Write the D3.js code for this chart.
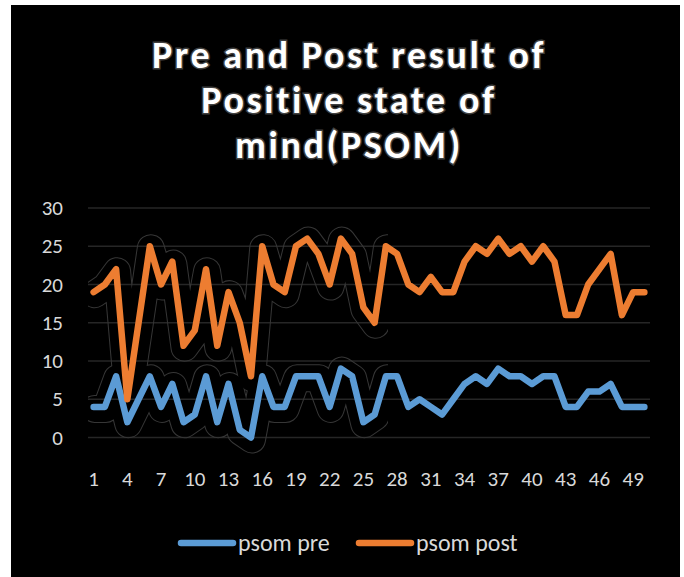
<!DOCTYPE html>
<html>
<head>
<meta charset="utf-8">
<script src="https://cdn.jsdelivr.net/npm/d3@7"></script>
<style>
  body { margin: 0; background: #fff; }
  svg { display: block; }
</style>
</head>
<body>
<div class="chart"></div>
<script>
// data
var categories = d3.range(1, 51);
var psomPre = [4,4,8,2,5,8,4,7,2,3, 8,2,7,1,0,8,4,4,8,8, 8,4,9,8,2,3,8,8,4,5,
               4,3,5,7,8,7,9,8,8,7, 8,8,4,4,6,6,7,4,4,4];
var psomPost = [19,20,22,5,15,25,20,23,12,14, 22,12,19,15,8,25,20,19,25,26,
                24,20,26,24,17,15,25,24,20,19, 21,19,19,23,25,24,26,24,25,23,
                25,23,16,16,20,22,24,16,19,19];
var yTicks = [0, 5, 10, 15, 20, 25, 30];
var seriesNames = ["psom pre", "psom post"];
var titleLines = ["Pre and Post result of", "Positive state of", "mind(PSOM)"];

var width = 684, height = 577;
var font = "Carlito, Lato, 'Open Sans', sans-serif";

var svg = d3.select(".chart").append("svg")
    .attr("width", width)
    .attr("height", height);

// black chart area
svg.append("rect")
    .attr("x", 11).attr("y", 5)
    .attr("width", 669).attr("height", 572)
    .attr("fill", "#000");

var x = d3.scaleBand().domain(categories).range([88, 650]);
var y = d3.scaleLinear().domain([0, 30]).range([437.5, 208]);

// gridlines
svg.append("g")
    .selectAll("line")
    .data(yTicks)
    .enter().append("line")
    .attr("x1", 88).attr("x2", 650)
    .attr("y1", d => y(d)).attr("y2", d => y(d))
    .attr("stroke", "#262626")
    .attr("stroke-width", 1.3);

// y axis labels
var yAxis = svg.append("g")
    .attr("transform", "translate(63,0)")
    .call(d3.axisLeft(y).tickValues(yTicks).tickSize(0).tickPadding(0));
yAxis.select(".domain").remove();
yAxis.selectAll("text")
    .attr("fill", "#d9d9d9")
    .style("font-family", font)
    .style("font-size", "21px");

// x axis labels, every third category
var xAxis = svg.append("g")
    .attr("transform", "translate(0,471)")
    .call(d3.axisBottom(x)
        .tickValues(categories.filter(d => (d - 1) % 3 === 0))
        .tickSize(0).tickPadding(0));
xAxis.select(".domain").remove();
xAxis.selectAll("text")
    .attr("fill", "#d9d9d9")
    .style("font-family", font)
    .style("font-size", "21px");

var cx = d => x(d) + x.bandwidth() / 2;
var line = d3.line()
    .x((d, i) => cx(categories[i]))
    .y(d => y(d));

// faint outline left around the first part of both lines
var defs = svg.append("defs");
defs.append("clipPath").attr("id", "plotclip")
    .append("rect").attr("x", 88).attr("y", 180).attr("width", 300).attr("height", 280);
var mask = defs.append("mask").attr("id", "ringmask");
mask.append("rect").attr("width", width).attr("height", height).attr("fill", "#000");
[psomPre, psomPost].forEach(function (s) {
    mask.append("path").attr("d", line(s.slice(0, 27)))
        .attr("fill", "none").attr("stroke", "#fff")
        .attr("stroke-width", 28).attr("stroke-linejoin", "round").attr("stroke-linecap", "round");
});
[psomPre, psomPost].forEach(function (s) {
    mask.append("path").attr("d", line(s.slice(0, 27)))
        .attr("fill", "none").attr("stroke", "#000")
        .attr("stroke-width", 26).attr("stroke-linejoin", "round").attr("stroke-linecap", "round");
});
svg.append("g").attr("clip-path", "url(#plotclip)")
    .append("rect")
    .attr("width", width).attr("height", height)
    .attr("transform", "translate(1,2)")
    .attr("fill", "#363636")
    .attr("mask", "url(#ringmask)");

// series lines
var colors = ["#5b9bd5", "#ed7d31"];
[psomPre, psomPost].forEach(function (s, i) {
    svg.append("path")
        .attr("d", line(s))
        .attr("fill", "none")
        .attr("stroke", colors[i])
        .attr("stroke-width", 6.5)
        .attr("stroke-linejoin", "round")
        .attr("stroke-linecap", "round");
});

// title
svg.append("text")
    .attr("text-anchor", "middle")
    .style("font-family", font)
    .style("font-size", "38px")
    .style("font-weight", "bold")
    .style("letter-spacing", "2.6px")
    .attr("fill", "#fff")
    .attr("stroke", "#404040")
    .attr("stroke-width", 3)
    .attr("paint-order", "stroke")
    .selectAll("tspan")
    .data(titleLines)
    .enter().append("tspan")
    .attr("x", 349)
    .attr("y", (d, i) => 68 + i * 45)
    .text(d => d);

// legend
var legendX = [181, 359];
var legend = svg.append("g");
seriesNames.forEach(function (name, i) {
    legend.append("line")
        .attr("x1", legendX[i]).attr("x2", legendX[i] + 52)
        .attr("y1", 543).attr("y2", 543)
        .attr("stroke", colors[i])
        .attr("stroke-width", 6.5)
        .attr("stroke-linecap", "round");
    legend.append("text")
        .attr("x", legendX[i] + 57)
        .attr("y", 551)
        .attr("fill", "#d9d9d9")
        .style("font-family", font)
        .style("font-size", "24px")
        .text(name);
});
</script>
</body>
</html>
